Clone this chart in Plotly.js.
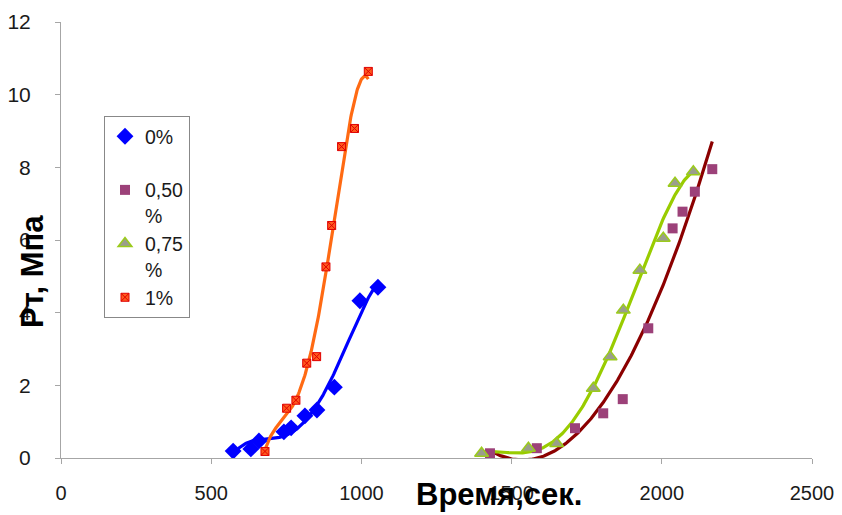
<!DOCTYPE html>
<html>
<head>
<meta charset="utf-8">
<script src="https://cdn.plot.ly/plotly-3.0.1.min.js"></script>
<style>html,body{margin:0;padding:0;background:#fff;}#chart{width:842px;height:515px;}</style>
</head>
<body>
<div id="chart"></div>
<script>
// Series names (legend labels)
var seriesNames = ['0%<br> ', '0,50<br>%', '0,75<br>%', '1%'];

// 0% series
var x0 = [573, 632, 659, 742, 766, 812, 852, 910, 995, 1055];
var y0 = [0.19, 0.25, 0.47, 0.72, 0.83, 1.16, 1.32, 1.95, 4.33, 4.70];

// 0,50 % series
var x50 = [1428, 1584, 1711, 1805, 1870, 1955, 2036, 2069, 2110, 2168];
var y50 = [0.13, 0.27, 0.82, 1.23, 1.62, 3.57, 6.32, 6.78, 7.33, 7.95];

// 0,75 % series
var x75 = [1400, 1556, 1650, 1772, 1828, 1872, 1927, 2005, 2044, 2105];
var y75 = [0.13, 0.27, 0.40, 1.92, 2.79, 4.07, 5.17, 6.05, 7.56, 7.88];

// 1% series
var x1 = [679, 751, 782, 818, 851, 882, 901, 934, 977, 1023];
var y1 = [0.18, 1.37, 1.59, 2.61, 2.79, 5.26, 6.40, 8.57, 9.07, 10.64];

// Axis ticks
var xTicks = [0, 500, 1000, 1500, 2000, 2500];
var yTicks = [0, 2, 4, 6, 8, 10, 12];

// least-squares polynomial trendline (like a spreadsheet trendline)
function polyFit(xs, ys, order) {
  var mx = xs.reduce(function(a,b){return a+b;},0)/xs.length;
  var sx = Math.max.apply(null, xs.map(function(v){return Math.abs(v-mx);}));
  var n = order + 1, A = [], i, j, k;
  for (i = 0; i < n; i++) { A.push(new Array(n + 1).fill(0)); }
  xs.forEach(function(xv, idx) {
    var t = (xv - mx) / sx;
    for (i = 0; i < n; i++) {
      for (j = 0; j < n; j++) A[i][j] += Math.pow(t, i + j);
      A[i][n] += ys[idx] * Math.pow(t, i);
    }
  });
  for (i = 0; i < n; i++) {
    var p = i;
    for (k = i + 1; k < n; k++) if (Math.abs(A[k][i]) > Math.abs(A[p][i])) p = k;
    var tmp = A[i]; A[i] = A[p]; A[p] = tmp;
    for (k = i + 1; k < n; k++) {
      var f = A[k][i] / A[i][i];
      for (j = i; j <= n; j++) A[k][j] -= f * A[i][j];
    }
  }
  var c = new Array(n).fill(0);
  for (i = n - 1; i >= 0; i--) {
    var s = A[i][n];
    for (j = i + 1; j < n; j++) s -= A[i][j] * c[j];
    c[i] = s / A[i][i];
  }
  var lo = Math.min.apply(null, xs), hi = Math.max.apply(null, xs);
  var tx = [], ty = [];
  for (i = 0; i <= 200; i++) {
    var xv = lo + (hi - lo) * i / 200, t = (xv - mx) / sx, yv = 0;
    for (j = 0; j < n; j++) yv += c[j] * Math.pow(t, j);
    tx.push(xv); ty.push(yv);
  }
  return {x: tx, y: ty};
}

var t0 = polyFit(x0, y0, 4);
var t50 = polyFit(x50, y50, 2);
var t75 = polyFit(x75, y75, 4);
var t1 = polyFit(x1, y1, 4);

var lineW = 3.2;
var traces = [
  {x: t0.x, y: t0.y, mode: 'lines', line: {color: '#0000FF', width: lineW}, showlegend: false, hoverinfo: 'skip'},
  {x: t50.x, y: t50.y, mode: 'lines', line: {color: '#8B0000', width: lineW}, showlegend: false, hoverinfo: 'skip'},
  {x: t75.x, y: t75.y, mode: 'lines', line: {color: '#99CC00', width: lineW}, showlegend: false, hoverinfo: 'skip'},
  {x: t1.x, y: t1.y, mode: 'lines', line: {color: '#FF6A13', width: lineW}, showlegend: false, hoverinfo: 'skip'},
  {x: x0, y: y0, name: seriesNames[0], mode: 'markers',
   marker: {symbol: 'diamond', size: 13, color: '#0000FF'}},
  {x: x50, y: y50, name: seriesNames[1], mode: 'markers',
   marker: {symbol: 'square', size: 10, color: '#9C4179'}},
  {x: x75, y: y75, name: seriesNames[2], mode: 'markers',
   marker: {symbol: 'triangle-up', size: 12, color: '#9A9E8C', line: {color: '#9BCB1C', width: 1.5}}},
  {x: x1, y: y1, name: seriesNames[3], mode: 'markers',
   marker: {symbol: 'square-x', size: 8, color: '#FF5A1E', line: {color: '#E00000', width: 1}}}
];

var layout = {
  width: 842, height: 515,
  margin: {l: 61, r: 30, t: 22, b: 57},
  paper_bgcolor: '#ffffff', plot_bgcolor: '#ffffff',
  font: {family: 'Liberation Sans, Arial, sans-serif', size: 20, color: '#1a1a1a'},
  showlegend: true,
  legend: {
    x: (104 - 61) / 751, y: (458 - 116) / 436, xanchor: 'left', yanchor: 'top',
    bordercolor: '#888888', borderwidth: 1, bgcolor: '#ffffff',
    valign: 'top', font: {size: 19.5, color: '#1a1a1a'}, itemwidth: 30
  },
  xaxis: {
    range: [0, 2500], tickvals: xTicks, ticktext: xTicks.map(String),
    showgrid: false, zeroline: false, showline: true, linecolor: '#A6A6A6', linewidth: 1,
    ticks: 'outside', ticklen: 5, tickcolor: '#A6A6A6', ticklabelstandoff: 12,
    tickfont: {size: 20}
  },
  yaxis: {
    range: [0, 12], tickvals: yTicks, ticktext: yTicks.map(String),
    showgrid: false, zeroline: false, showline: true, linecolor: '#A6A6A6', linewidth: 1,
    ticks: 'outside', ticklen: 5, tickcolor: '#A6A6A6', ticklabelstandoff: 20,
    tickfont: {size: 21}
  },
  annotations: [
    {text: '<b>Время,сек.</b>', xref: 'paper', yref: 'paper',
     x: (499 - 61) / 751, y: -(494 - 458) / 436, xanchor: 'center', yanchor: 'middle',
     showarrow: false, font: {size: 31, color: '#000000', family: 'Liberation Sans, Arial, sans-serif'}},
    {text: '<b>Рт, Мпа</b>', xref: 'paper', yref: 'paper', textangle: -90,
     x: (32 - 61) / 751, y: (458 - 272) / 436, xanchor: 'center', yanchor: 'middle',
     showarrow: false, font: {size: 31, color: '#000000', family: 'Liberation Sans, Arial, sans-serif'}}
  ]
};

Plotly.newPlot('chart', traces, layout, {displayModeBar: false, staticPlot: true});
</script>
</body>
</html>
